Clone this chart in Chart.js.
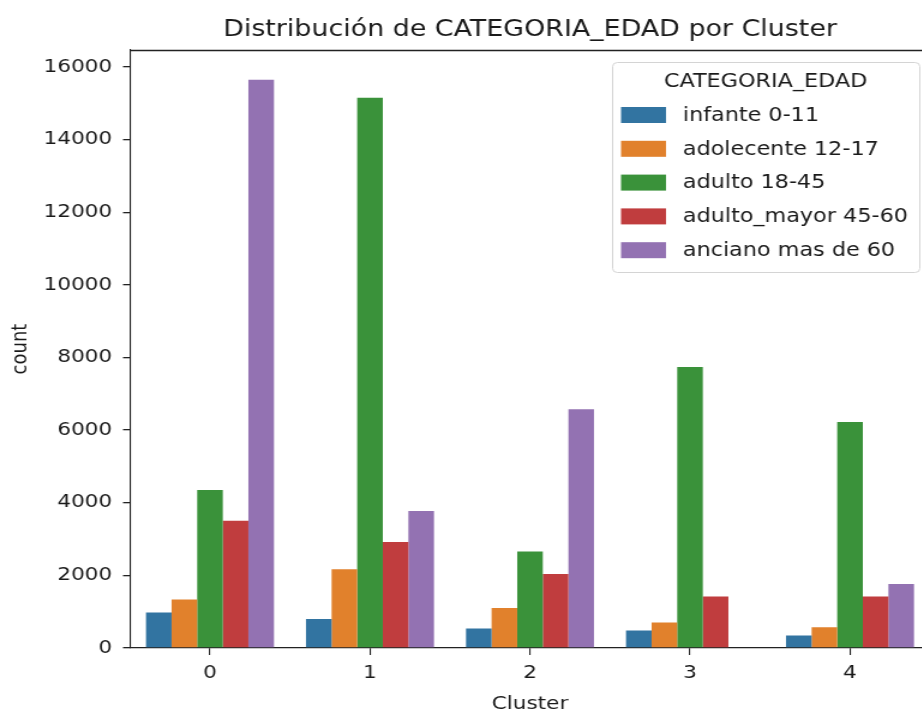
<!DOCTYPE html>
<html>
<head>
<meta charset="utf-8">
<script src="https://cdn.jsdelivr.net/npm/chart.js@4.4.0/dist/chart.umd.min.js"></script>
<style>
  html, body { margin: 0; padding: 0; background: #fff; overflow: hidden; }
  #wrap { width: 922px; height: 714px; overflow: hidden; position: relative; }
  /* the reference picture is stretched sideways, so the canvas is too */
  #chart { position: absolute; left: 0; top: 0; transform: scaleX(1.2); transform-origin: 0 0; }
</style>
</head>
<body>
<div id="wrap"><canvas id="chart" width="790" height="714"></canvas></div>
<script>
const clusters = ["0", "1", "2", "3", "4"];

const infante = [975, 799, 534, 479, 341];
const adolecente = [1333, 2167, 1102, 700, 570];
const adulto = [4351, 15158, 2655, 7739, 6224];
const adultoMayor = [3508, 2919, 2038, 1416, 1416];
const anciano = [15654, 3773, 6574, 0, 1763];

const seriesNames = ["infante 0-11", "adolecente 12-17", "adulto 18-45", "adulto_mayor 45-60", "anciano mas de 60"];
const seriesColors = ["#3274a1", "#e1812c", "#3a923a", "#c03d3e", "#9372b2"];

const yTicks = [0, 2000, 4000, 6000, 8000, 10000, 12000, 14000, 16000];

const FONT = "'DejaVu Sans', sans-serif";
const TEXT = "#1a1a1a";
const FS = 18;

// title, top spine and legend box
const extras = {
  id: "extras",
  afterDraw(chart) {
    const ctx = chart.ctx;
    const area = chart.chartArea;
    ctx.save();

    ctx.strokeStyle = "#222";
    ctx.lineWidth = 1.3;
    ctx.beginPath();
    ctx.moveTo(area.left, area.top + 0.5);
    ctx.lineTo(area.right, area.top + 0.5);
    ctx.stroke();

    ctx.fillStyle = TEXT;
    ctx.font = "22.4px " + FONT;
    ctx.textAlign = "center";
    ctx.textBaseline = "alphabetic";
    ctx.fillText("Distribución de CATEGORIA_EDAD por Cluster", (area.left + area.right) / 2, 36);

    // legend
    const bx = 510, by = 62, bw = 256, bh = 210;
    ctx.fillStyle = "rgba(255,255,255,0.8)";
    ctx.strokeStyle = "#d4d4d4";
    ctx.lineWidth = 1;
    ctx.beginPath();
    ctx.roundRect(bx + 0.5, by + 0.5, bw, bh, 4);
    ctx.fill();
    ctx.stroke();

    ctx.font = "18.6px " + FONT;
    ctx.fillStyle = TEXT;
    ctx.textAlign = "center";
    ctx.textBaseline = "middle";
    ctx.fillText("CATEGORIA_EDAD", bx + bw / 2, 82);

    ctx.textAlign = "left";
    chart.data.datasets.forEach((ds, i) => {
      const cy = 115 + i * 33.8;
      ctx.fillStyle = ds.backgroundColor;
      ctx.fillRect(517.5, cy - 8, 37.5, 16);
      ctx.fillStyle = TEXT;
      ctx.fillText(ds.label, 569, cy + 1);
    });

    ctx.restore();
  }
};

const datasets = [infante, adolecente, adulto, adultoMayor, anciano].map((vals, i) => ({
  label: seriesNames[i],
  data: vals,
  backgroundColor: seriesColors[i],
  borderWidth: 0,
  categoryPercentage: 0.8,
  barPercentage: 1.0
}));

const chart = new Chart(document.getElementById("chart"), {
  type: "bar",
  data: { labels: clusters, datasets: datasets },
  plugins: [extras],
  options: {
    responsive: false,
    animation: false,
    events: [],
    layout: { padding: { top: 50, right: 15, left: 0, bottom: 0 } },
    plugins: {
      legend: { display: false },
      title: { display: false },
      tooltip: { enabled: false }
    },
    scales: {
      x: {
        offset: true,
        grid: { display: true, offset: false, drawOnChartArea: false, drawTicks: true, tickLength: 7, color: "#222", lineWidth: 1.1 },
        border: { display: true, color: "#222", width: 1.3 },
        ticks: { color: TEXT, font: { family: FONT, size: FS }, padding: 8 },
        title: { display: true, text: "Cluster", color: TEXT, font: { family: FONT, size: FS }, padding: { top: 0, bottom: -1 } },
        afterFit(scale) { scale.height = 66; }
      },
      y: {
        min: 0,
        max: 16470,
        afterBuildTicks(scale) { scale.ticks = yTicks.map(v => ({ value: v })); },
        grid: { display: true, drawOnChartArea: false, drawTicks: true, tickLength: 5.8, color: "#222", lineWidth: 1.3 },
        border: { display: true, color: "#222", width: 1.1 },
        ticks: { color: TEXT, font: { family: FONT, size: FS }, padding: 9, callback: v => String(v) },
        title: { display: true, text: "count", color: TEXT, font: { family: FONT, size: FS }, padding: { top: 6.7, bottom: 0 } },
        afterFit(scale) { scale.width = 108.3; }
      }
    }
  }
});
</script>
</body>
</html>
